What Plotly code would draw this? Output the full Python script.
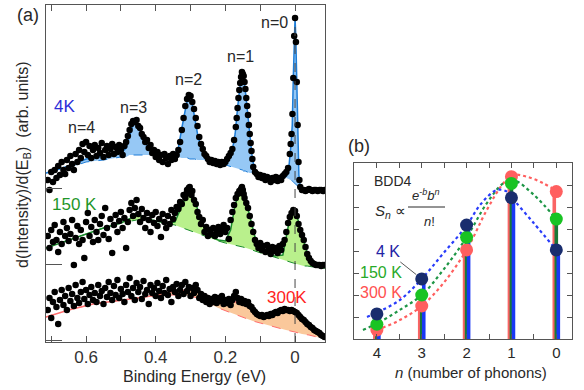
import plotly.graph_objects as go

# ---------------- panel (a): ARPES derivative spectra ----------------
# (binding energy eV, d(I)/dE arb. units incl. waterfall offset)
pts_4k = [(0.710,160),(0.705,150),(0.700,168),(0.695,158),(0.690,170),(0.685,162),(0.680,174),(0.675,165),(0.670,178),(0.665,170),
(0.660,166),(0.655,180),(0.650,172),(0.645,184),(0.640,176),(0.635,170),(0.630,186),(0.625,178),(0.620,190),(0.615,182),
(0.610,196),(0.605,188),(0.600,198),(0.595,185),(0.590,194),(0.585,182),(0.580,190),(0.575,195),(0.570,184),(0.565,192),
(0.560,187),(0.555,197),(0.550,183),(0.545,190),(0.540,194),(0.535,185),(0.530,191),(0.525,196),(0.520,186),(0.515,193),
(0.510,188),(0.505,195),(0.500,190),(0.495,185),(0.490,194),(0.485,198),(0.480,204),(0.475,210),(0.470,216),(0.465,219),
(0.460,218),(0.455,220),(0.450,214),(0.445,212),(0.440,206),(0.435,203),(0.430,198),(0.425,200),(0.420,192),(0.415,195),
(0.410,187),(0.405,190),(0.400,183),(0.395,188),(0.390,180),(0.385,185),(0.380,178),(0.375,186),(0.370,182),(0.365,176),
(0.360,184),(0.355,180),(0.350,186),(0.345,181),(0.340,185),(0.335,190),(0.330,198),(0.325,210),(0.320,222),(0.315,234),
(0.310,241),(0.305,245),(0.300,244),(0.295,238),(0.290,231),(0.285,222),(0.280,214),(0.275,203),(0.270,196),(0.265,191),
(0.260,186),(0.255,184),(0.250,181),(0.245,178),(0.240,180),(0.235,177),(0.230,179),(0.225,176),(0.220,178),(0.215,175),
(0.210,178),(0.205,176),(0.200,178),(0.195,181),(0.190,184),(0.185,187),(0.180,191),(0.175,200),(0.170,213),(0.1675,222),
(0.165,232),(0.1625,242),(0.160,250),(0.1575,257),(0.155,263),(0.1525,268),(0.150,266),(0.1475,264),(0.145,258),(0.1425,251),
(0.140,242),(0.1375,234),(0.135,225),(0.1325,215),(0.130,206),(0.1275,197),(0.125,189),(0.1225,181),(0.120,173),(0.115,168),
(0.110,166),(0.105,163),(0.100,165),(0.095,162),(0.090,164),(0.085,160),(0.080,163),(0.075,161),(0.070,158),(0.065,162),
(0.060,160),(0.055,163),(0.050,159),(0.045,162),(0.040,160),(0.035,164),(0.030,166),(0.025,168),(0.020,172),(0.015,186),
(0.0125,196),(0.010,206),(0.0075,226),(0.005,262),(0.0025,304),(0.000,322),(-0.0025,298),(-0.005,258),(-0.0075,215),(-0.010,178),
(-0.0125,160),(-0.015,153),(-0.020,150),(-0.025,150),(-0.030,149),(-0.035,150),(-0.040,151),(-0.045,150),(-0.050,149),(-0.055,150),
(-0.060,150),(-0.065,149),(-0.070,150),(-0.075,150),(-0.080,149),(-0.085,150)]

pts_150k = [(0.710,104),(0.705,92),(0.700,110),(0.695,98),(0.690,115),(0.685,100),(0.680,88),(0.675,108),(0.670,96),(0.665,118),
(0.660,104),(0.655,112),(0.650,99),(0.645,106),(0.640,120),(0.635,75),(0.630,102),(0.625,114),(0.620,96),(0.615,110),
(0.610,100),(0.605,82),(0.600,118),(0.595,127),(0.590,104),(0.585,113),(0.580,98),(0.575,120),(0.570,108),(0.565,100),
(0.560,116),(0.555,124),(0.550,105),(0.545,132),(0.540,112),(0.535,101),(0.530,121),(0.525,87),(0.520,115),(0.515,125),
(0.510,108),(0.505,119),(0.500,128),(0.495,112),(0.490,122),(0.485,92),(0.480,118),(0.475,130),(0.470,137),(0.465,124),
(0.460,132),(0.455,140),(0.450,126),(0.445,118),(0.440,131),(0.435,122),(0.430,112),(0.425,127),(0.420,120),(0.415,108),
(0.410,125),(0.405,117),(0.400,128),(0.395,114),(0.390,121),(0.385,103),(0.380,126),(0.375,118),(0.370,112),(0.365,124),
(0.360,116),(0.355,130),(0.350,121),(0.345,127),(0.340,133),(0.335,131),(0.330,138),(0.325,136),(0.320,145),(0.315,142),
(0.3125,146),(0.310,150),(0.3075,148),(0.305,152),(0.3025,153),(0.300,147),(0.2975,145),(0.295,149),(0.290,140),(0.285,136),
(0.280,128),(0.275,123),(0.270,116),(0.265,120),(0.260,108),(0.255,113),(0.250,104),(0.245,110),(0.240,106),(0.235,112),
(0.230,104),(0.225,109),(0.220,113),(0.215,106),(0.210,110),(0.205,115),(0.200,108),(0.195,112),(0.190,101),(0.185,120),
(0.180,128),(0.175,135),(0.170,142),(0.165,146),(0.160,149),(0.1575,147),(0.155,151),(0.1525,153),(0.150,150),(0.1475,146),
(0.145,142),(0.140,137),(0.135,132),(0.130,124),(0.125,116),(0.120,108),(0.115,100),(0.110,96),(0.105,92),(0.100,97),
(0.095,90),(0.090,94),(0.085,88),(0.080,95),(0.075,91),(0.070,86),(0.065,93),(0.060,89),(0.055,92),(0.050,87),
(0.045,94),(0.040,90),(0.035,96),(0.030,100),(0.025,108),(0.020,117),(0.015,123),(0.010,127),(0.005,130),(0.000,129),
(-0.005,124),(-0.010,116),(-0.015,110),(-0.020,105),(-0.025,100),(-0.030,93),(-0.035,86),(-0.040,82),(-0.045,79),(-0.050,77),
(-0.055,76),(-0.060,75),(-0.065,75),(-0.070,75),(-0.075,74),(-0.080,75),(-0.085,75)]

pts_300k = [(0.710,30),(0.705,42),(0.700,22),(0.695,38),(0.690,48),(0.685,33),(0.680,16),(0.675,40),(0.670,50),(0.665,35),
(0.660,44),(0.655,30),(0.650,52),(0.645,39),(0.640,46),(0.635,34),(0.630,55),(0.625,42),(0.620,37),(0.615,48),
(0.610,58),(0.605,41),(0.600,50),(0.595,36),(0.590,45),(0.585,53),(0.580,40),(0.575,47),(0.570,38),(0.565,55),
(0.560,44),(0.555,49),(0.550,36),(0.545,52),(0.540,43),(0.535,58),(0.530,47),(0.525,40),(0.520,54),(0.515,45),
(0.510,60),(0.505,42),(0.500,51),(0.495,46),(0.490,38),(0.485,55),(0.480,48),(0.475,62),(0.470,44),(0.465,52),
(0.460,40),(0.455,57),(0.450,48),(0.445,53),(0.440,41),(0.435,59),(0.430,46),(0.425,50),(0.420,36),(0.415,55),
(0.410,47),(0.405,52),(0.400,44),(0.395,57),(0.390,49),(0.385,42),(0.380,54),(0.375,47),(0.370,60),(0.365,45),
(0.360,51),(0.355,38),(0.350,53),(0.345,48),(0.340,56),(0.335,44),(0.330,50),(0.325,55),(0.320,46),(0.315,58),
(0.310,49),(0.305,53),(0.300,44),(0.295,52),(0.290,47),(0.285,55),(0.280,50),(0.275,42),(0.270,46),(0.265,40),
(0.260,44),(0.255,38),(0.250,42),(0.245,36),(0.240,41),(0.235,38),(0.230,43),(0.225,37),(0.220,42),(0.215,39),
(0.210,44),(0.205,36),(0.200,40),(0.195,37),(0.190,41),(0.185,35),(0.180,40),(0.175,44),(0.170,48),(0.165,42),
(0.160,38),(0.155,41),(0.150,37),(0.145,39),(0.140,36),(0.135,38),(0.130,34),(0.125,33),(0.120,30),(0.115,28),
(0.110,26),(0.105,25),(0.100,24),(0.095,25),(0.090,23),(0.085,24),(0.080,25),(0.075,24),(0.070,26),(0.065,25),
(0.060,27),(0.055,28),(0.050,27),(0.045,29),(0.040,30),(0.035,29),(0.030,31),(0.025,30),(0.020,30),(0.015,29),
(0.010,30),(0.005,29),(0.000,28),(-0.005,27),(-0.010,25),(-0.015,23),(-0.020,21),(-0.025,20),(-0.030,18),(-0.035,16),
(-0.040,15),(-0.045,13),(-0.050,12),(-0.055,10),(-0.060,9),(-0.065,8),(-0.070,7),(-0.075,5),(-0.080,4),(-0.085,3)]

# fitted spectra: (energy, background, background + phonon peaks)
fit_4k = [(0.715,167,167),(0.65,172,174),(0.60,178,181),(0.55,180,184),(0.50,183,187),(0.485,183,192),(0.475,185,205),
(0.465,185,216),(0.455,185,218),(0.445,185,210),(0.435,185,200),(0.42,185,192),(0.40,184,187),(0.37,183,185),(0.345,183,186),
(0.335,183,192),(0.325,182,212),(0.315,182,232),(0.308,182,243),(0.302,181,245),(0.296,181,238),(0.288,181,222),(0.28,180,206),
(0.27,180,193),(0.26,180,186),(0.25,179,183),(0.235,178,181),(0.22,177,179),(0.205,176,178),(0.19,174,180),(0.18,173,190),
(0.172,172,206),(0.165,171,232),(0.159,171,254),(0.154,170,266),(0.151,170,268),(0.148,169,264),(0.143,169,250),(0.137,168,230),
(0.13,167,206),(0.123,167,183),(0.116,166,170),(0.105,165,166),(0.08,164,164),(0.05,163,163),(0.025,162,164),(0.018,161,172),
(0.012,160,194),(0.008,159,215),(0.005,158,262),(0.002,157,308),(0.0,156,322),(-0.002,155,305),(-0.005,154,260),(-0.008,153,200),
(-0.011,152,165),(-0.015,151,153),(-0.02,150,150),(-0.04,150,150),(-0.086,150,150)]

fit_150k = [(0.715,92,92),(0.65,100,100),(0.60,106,106),(0.55,112,112),(0.50,117,117),(0.47,119,122),(0.455,120,127),
(0.44,120,124),(0.42,120,121),(0.40,119,119),(0.37,117,117),(0.345,115,118),(0.33,113,130),(0.315,111,143),(0.305,110,150),
(0.295,109,147),(0.28,107,130),(0.265,105,115),(0.25,103,106),(0.235,101,102),(0.22,99,100),(0.20,97,99),(0.185,96,110),
(0.172,95,135),(0.16,94,148),(0.15,93,150),(0.14,92,138),(0.125,90,116),(0.11,88,96),(0.09,86,88),(0.06,83,84),
(0.035,80,85),(0.025,79,105),(0.015,78,122),(0.005,77,130),(-0.005,76,125),(-0.015,75,111),(-0.025,74,100),(-0.035,74,87),
(-0.05,73,77),(-0.07,72,74),(-0.086,72,72)]

fit_300k = [(0.715,23,23),(0.65,30,30),(0.58,36,36),(0.50,40,40),(0.43,43,43),(0.36,45,48),(0.31,45,50),(0.28,42,50),
(0.25,37,44),(0.22,32,40),(0.19,28,38),(0.16,24,38),(0.121,19,32),(0.10,17,25),(0.06,13,25),(0.026,10,29),(0.0,8,28),
(-0.02,6,22),(-0.04,5,15),(-0.069,2,7),(-0.086,1,3)]

offsets_a = [0, 76, 152]            # waterfall baselines (y ticks)
peak_labels = [("n=0", 0.060, 317), ("n=1", 0.158, 283), ("n=2", 0.307, 260), ("n=3", 0.465, 232), ("n=4", 0.612, 212)]
xticks_a = [0.6, 0.4, 0.2, 0]

# ---------------- panel (b): phonon replica intensities ----------------
n_phonons = [4, 3, 2, 1, 0]
s_4k = [1.14, 2.73, 5.18, 6.42, 4.05]
s_150k = [0.67, 2.00, 4.62, 7.07, 5.45]
s_300k = [0.41, 1.50, 4.05, 7.38, 6.70]
# Poisson-fit dotted curves (n, S)
curve_4k = [(4.22,1.0),(4.0,1.2),(3.49,1.77),(3.0,2.73),(2.52,3.89),(2.0,5.15),(1.70,6.09),(1.33,6.77),(1.10,6.70),(1.0,6.45),(0.5,5.26),(0.0,4.05)]
curve_150k = [(4.31,0.41),(4.0,0.70),(3.49,1.32),(3.0,2.0),(2.52,3.14),(2.0,4.62),(1.55,6.17),(1.18,7.08),(0.96,7.23),(0.5,6.55),(0.0,5.45)]
curve_300k = [(4.12,0.33),(4.0,0.41),(3.49,0.86),(3.0,1.5),(2.52,2.53),(2.0,4.05),(1.55,5.86),(1.18,7.08),(0.96,7.45),(0.66,7.38),(0.29,7.08),(-0.03,6.7)]

W, H = 584, 390
def px(x): return x / W
def py(y): return 1 - y / H

BLUE_FILL, BLUE_LINE = "rgb(150,200,245)", "rgb(30,125,215)"
GREEN_FILL, GREEN_LINE = "rgb(185,240,140)", "rgb(25,140,45)"
ORANGE_FILL, RED_LINE = "rgb(250,200,155)", "rgb(255,110,110)"

fig = go.Figure()

def add_fit(fit, line_col, fill_col):
    e = [p[0] for p in fit]; bg = [p[1] for p in fit]; up = [p[2] for p in fit]
    fig.add_trace(go.Scatter(x=e, y=bg, mode="lines", line=dict(color=line_col, width=1, dash="dash"),
                             xaxis="x", yaxis="y", showlegend=False, hoverinfo="skip"))
    fig.add_trace(go.Scatter(x=e, y=up, mode="lines", line=dict(color=line_col, width=1.5),
                             fill="tonexty", fillcolor=fill_col, xaxis="x", yaxis="y",
                             showlegend=False, hoverinfo="skip"))

add_fit(fit_300k, RED_LINE, ORANGE_FILL)
add_fit(fit_150k, GREEN_LINE, GREEN_FILL)
add_fit(fit_4k, BLUE_LINE, BLUE_FILL)

for pts in (pts_300k, pts_150k, pts_4k):
    fig.add_trace(go.Scatter(x=[p[0] for p in pts], y=[p[1] for p in pts], mode="markers",
                             marker=dict(color="black", size=6.5), xaxis="x", yaxis="y",
                             showlegend=False, hoverinfo="skip"))

# panel (b) dotted fits
for cur, col in ((curve_300k, "rgb(255,95,95)"), (curve_150k, "rgb(30,150,70)"), (curve_4k, "rgb(40,60,250)")):
    fig.add_trace(go.Scatter(x=[c[0] for c in cur], y=[c[1] for c in cur], mode="lines",
                             line=dict(color=col, width=2.2, dash="dot", shape="spline"),
                             xaxis="x2", yaxis="y2", showlegend=False, hoverinfo="skip"))

# bars (stems)
for vals, col, off in ((s_300k, "rgb(250,100,100)", 0.045), (s_150k, "rgb(25,120,55)", 0.0), (s_4k, "rgb(25,55,245)", -0.045)):
    fig.add_trace(go.Bar(x=[n + off for n in n_phonons], y=vals, width=0.08, marker=dict(color=col, line=dict(width=0)),
                         xaxis="x2", yaxis="y2", showlegend=False, hoverinfo="skip"))

for vals, col in ((s_300k, "rgb(255,95,95)"), (s_150k, "rgb(25,195,35)"), (s_4k, "rgb(25,45,110)")):
    fig.add_trace(go.Scatter(x=n_phonons, y=vals, mode="markers", marker=dict(color=col, size=13),
                             xaxis="x2", yaxis="y2", showlegend=False, hoverinfo="skip"))

AX = "rgb(85,85,85)"
FONT = "Liberation Sans, Arial, sans-serif"
fig.update_layout(
    width=W, height=H, margin=dict(l=0, r=0, t=0, b=0),
    paper_bgcolor="white", plot_bgcolor="white", barmode="overlay",
    font=dict(family=FONT, color="rgb(40,40,40)"),
    xaxis=dict(domain=[px(46), px(325)], range=[0.715, -0.086], anchor="y",
               tickvals=xticks_a, ticks="inside", ticklen=6, tickcolor=AX,
               minor=dict(dtick=0.1, tick0=0, ticks="inside", ticklen=6, tickcolor=AX),
               showline=True, linecolor=AX, mirror="ticks", showgrid=False, zeroline=False,
               tickfont=dict(size=17, color="rgb(50,50,50)")),
    yaxis=dict(domain=[py(342), py(5)], range=[-2, 335], anchor="x",
               tickvals=offsets_a, ticks="inside", ticklen=16, tickcolor=AX, showticklabels=False,
               showline=True, linecolor=AX, mirror=True, showgrid=False, zeroline=False),
    xaxis2=dict(domain=[px(354), px(572)], range=[4.51, -0.35], anchor="y2",
                tickvals=n_phonons, ticks="inside", ticklen=5, tickcolor=AX,
                minor=dict(tickvals=[4.5, 3.5, 2.5, 1.5, 0.5], ticks="inside", ticklen=5, tickcolor=AX),
                showline=True, linecolor=AX, mirror="ticks", showgrid=False, zeroline=False,
                tickfont=dict(size=15, color="rgb(40,40,40)")),
    yaxis2=dict(domain=[py(339), py(163)], range=[0, 8], anchor="x2",
                tickvals=[1, 2, 3, 4, 5, 6, 7], ticks="inside", ticklen=5, tickcolor=AX, showticklabels=False,
                showline=True, linecolor=AX, mirror="ticks", showgrid=False, zeroline=False),
)

# E=0 dashed line
fig.add_shape(type="line", xref="x", yref="y", x0=0, x1=0, y0=-2, y1=322,
              line=dict(color="rgb(70,70,70)", width=1, dash="dash"), layer="above")

ann = []
def A(text, x, y, size, color="rgb(40,40,40)", xref="paper", yref="paper", **kw):
    ann.append(dict(text=text, x=x, y=y, xref=xref, yref=yref, showarrow=False,
                    font=dict(size=size, color=color, family=FONT), xanchor="center", yanchor="middle", **kw))

A("(a)", px(28), py(15), 18)
A("(b)", px(359), py(146), 18)
A("Binding Energy (eV)", px(194), py(376), 16)
A("d(Intensity)/d(E<sub>B</sub>)&nbsp;&nbsp;(arb. units)", px(23), py(165), 16, textangle=-90)
for t, e, v in peak_labels:
    A(t, e, v, 16, xref="x", yref="y")
A("4K", 0.663, 233, 17, "rgb(45,45,215)", xref="x", yref="y")
A("150 K", 0.632, 135, 17, "rgb(30,150,40)", xref="x", yref="y")
A("300K", 0.023, 43, 17, "rgb(255,30,30)", xref="x", yref="y")

A("<i>n</i> (number of phonons)", px(471), py(372), 15)
A("BDD4", px(393), py(181), 14)
A("<i>S</i><sub><i>n</i></sub> ∝", px(390), py(212), 15)
A("<i>e</i><sup>-<i>b</i></sup><i>b</i><sup><i>n</i></sup>", px(426), py(195), 13)
A("<i>n</i>!", px(430), py(221), 13)
fig.add_shape(type="line", xref="paper", yref="paper", x0=px(408), x1=px(445), y0=py(207), y1=py(207),
              line=dict(color="rgb(40,40,40)", width=1))
A("150 K", px(381), py(272.5), 16, "rgb(40,170,40)")
A("300 K", px(381), py(292.5), 16, "rgb(255,80,80)")
ann.append(dict(text="4 K", x=3, y=s_4k[1], xref="x2", yref="y2", showarrow=True, arrowhead=0,
                arrowcolor="rgb(90,90,90)", arrowwidth=1, ax=-34, ay=-27, standoff=7,
                font=dict(size=16, color="rgb(35,35,165)", family=FONT)))
fig.update_layout(annotations=ann)

fig.write_html("out.html")
